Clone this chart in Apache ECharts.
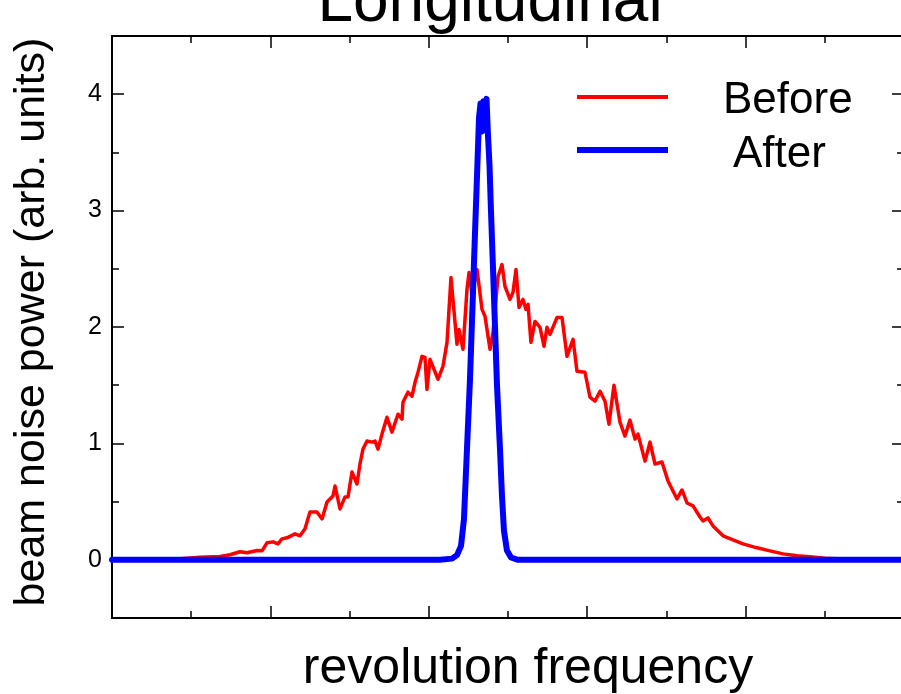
<!DOCTYPE html>
<html>
<head>
<meta charset="utf-8">
<script src="https://cdn.jsdelivr.net/npm/echarts@6/dist/echarts.min.js"></script>
<style>
html,body{margin:0;padding:0;background:#fff;}
#chart{width:901px;height:694px;}
</style>
</head>
<body>
<div id="chart"></div>
<script>
// x in arbitrary frequency units (0..100), y in arb. units
var beforeX = [0,4.8,8.59,11.11,13.64,14.9,16.16,17.05,18.31,18.94,19.57,20.33,20.96,21.46,22.1,22.47,23.11,23.74,24.37,25.0,25.88,26.52,27.15,27.9,28.16,28.79,29.42,29.8,30.3,30.93,31.31,31.69,32.2,32.83,33.21,33.59,34.09,34.72,35.35,36.11,36.62,36.74,37.37,37.88,38.26,38.64,39.14,39.52,39.77,40.15,40.4,41.16,41.79,42.3,42.8,43.56,43.81,44.32,44.82,45.08,45.45,46.09,46.72,47.1,47.35,47.73,48.11,48.74,49.24,49.62,50.25,50.63,51.01,51.39,51.89,52.27,52.53,52.9,53.41,54.04,54.55,54.92,55.3,56.19,56.82,57.45,58.21,58.71,59.72,60.35,60.98,61.62,62.25,62.75,63.38,64.14,64.77,65.4,66.04,66.41,67.3,67.93,68.56,69.44,70.2,71.34,71.97,72.6,73.36,74.24,74.62,75.25,75.88,77.15,78.41,79.67,81.44,83.08,84.72,86.49,88.13,90.03,93.18,96.97,100];
var beforeY = [0,0,0.009,0.021,0.028,0.043,0.069,0.06,0.08,0.077,0.146,0.154,0.137,0.18,0.189,0.201,0.223,0.206,0.266,0.411,0.411,0.351,0.497,0.548,0.634,0.437,0.54,0.54,0.754,0.651,0.823,0.951,1.02,1.011,1.02,0.951,1.08,1.225,1.097,1.251,1.208,1.354,1.44,1.405,1.525,1.611,1.748,1.739,1.465,1.722,1.739,1.551,1.662,1.868,2.425,1.851,1.979,1.808,2.322,2.468,2.279,2.494,2.151,2.091,2.091,1.808,1.954,2.434,2.536,2.348,2.237,2.297,2.494,2.168,2.237,2.151,2.194,1.868,2.048,1.997,1.834,1.997,1.937,2.082,2.082,1.748,1.894,1.62,1.611,1.397,1.362,1.448,1.362,1.165,1.5,1.183,1.063,1.2,1.037,1.08,0.848,1.011,0.823,0.84,0.677,0.523,0.6,0.488,0.463,0.368,0.334,0.36,0.291,0.206,0.171,0.137,0.103,0.077,0.051,0.034,0.026,0.013,0.004,0,0];
var afterX = [0,41.41,42.93,43.56,44.07,44.44,44.82,45.2,45.58,45.83,46.09,46.34,46.53,46.72,46.91,47.1,47.29,47.47,47.66,47.85,48.11,48.36,48.61,48.99,49.24,49.49,49.87,50.38,51.26,100];
var afterY = [0,0,0.01,0.04,0.12,0.35,0.95,1.55,2.3,2.8,3.3,3.8,3.92,3.68,3.94,3.9,3.96,3.65,3.4,3.0,2.5,2.0,1.5,0.95,0.55,0.25,0.08,0.02,0,0];
var yMajorTicks = [0,1,2,3,4];
var yMinorTicks = [0.5,1.5,2.5,3.5];
var seriesNames = ['Before','After'];
var titleText = 'Longitudinal';
var xName = 'revolution frequency';
var yName = 'beam noise power (arb. units)';

function pairs(xs, ys){ return xs.map(function(x,i){ return [x, ys[i]]; }); }

var FF = '"Liberation Sans", Arial, Helvetica, sans-serif';
var axisLineStyle = {color:'#000', width:2};

function xAxisDef(pos){
  return {
    type:'value', position:pos, min:0, max:100, interval:20,
    axisLine:{show:true, onZero:false, lineStyle:axisLineStyle},
    axisTick:{show:true, inside:true, length:12, lineStyle:{color:'#000', width:1.5}},
    minorTick:{show:true, splitNumber:2, length:7, lineStyle:{color:'#000', width:1.5}},
    axisLabel:{show:false},
    splitLine:{show:false}, minorSplitLine:{show:false}
  };
}
function yAxisDef(pos, ticks, len, showLine, showLabel){
  return {
    type:'value', position:pos, min:-0.5, max:4.5,
    axisLine:{show:showLine, onZero:false, lineStyle:axisLineStyle},
    axisTick:{show:true, inside:true, length:len, customValues:ticks, lineStyle:{color:'#000', width:1.5}},
    axisLabel:{show:showLabel, customValues:ticks, fontSize:25, color:'#000', fontFamily:FF, margin:10},
    splitLine:{show:false}
  };
}

var xBottom = xAxisDef('bottom');
xBottom.name = xName;
xBottom.nameLocation = 'middle';
xBottom.nameGap = 26;
xBottom.nameTextStyle = {fontSize:50, color:'#000', fontFamily:FF, padding:[0,0,0,40]};

var yLeft = yAxisDef('left', yMajorTicks, 12, true, true);
yLeft.name = yName;
yLeft.nameLocation = 'middle';
yLeft.nameGap = 58;
yLeft.nameTextStyle = {fontSize:43, color:'#000', fontFamily:FF, padding:[0,0,0,10]};

var chart = echarts.init(document.getElementById('chart'), null, {renderer:'canvas'});
chart.setOption({
  animation:false,
  backgroundColor:'#fff',
  title:{text:titleText, left:485, textAlign:'center', top:-34,
    textStyle:{fontSize:64, fontWeight:'normal', color:'#000', fontFamily:FF}},
  grid:{left:112, top:36, width:792, height:582, containLabel:false, outerBoundsMode:'none'},
  legend:[
    {data:[{name:seriesNames[0], icon:'path://M0,0H91V4H0ZM0,12L0.01,12Z'}], left:577, top:79, orient:'vertical', padding:0,
     itemWidth:91, itemHeight:12, selectedMode:false,
     textStyle:{fontSize:44, color:'#000', fontFamily:FF, padding:[0,0,0,50], lineHeight:44}},
    {data:[{name:seriesNames[1], icon:'path://M0,0H91V6H0ZM0,16L0.01,16Z'}], left:577, top:133, orient:'vertical', padding:0,
     itemWidth:91, itemHeight:16, selectedMode:false,
     textStyle:{fontSize:44, color:'#000', fontFamily:FF, padding:[0,0,0,60], lineHeight:44}}
  ],
  xAxis:[xBottom, xAxisDef('top')],
  yAxis:[
    yLeft,
    yAxisDef('left', yMinorTicks, 7, false, false),
    yAxisDef('right', yMajorTicks, 12, true, false),
    yAxisDef('right', yMinorTicks, 7, false, false)
  ],
  series:[
    {name:seriesNames[0], type:'line', xAxisIndex:0, yAxisIndex:0, data:pairs(beforeX, beforeY),
     showSymbol:false, symbol:'none', color:'#ff0000', lineStyle:{color:'#ff0000', width:3.5, join:'round', cap:'round'}, z:2},
    {name:seriesNames[1], type:'line', xAxisIndex:0, yAxisIndex:0, data:pairs(afterX, afterY),
     showSymbol:false, symbol:'none', color:'#0000ff', lineStyle:{color:'#0000ff', width:6, join:'round', cap:'round'}, z:3}
  ]
});
</script>
</body>
</html>
